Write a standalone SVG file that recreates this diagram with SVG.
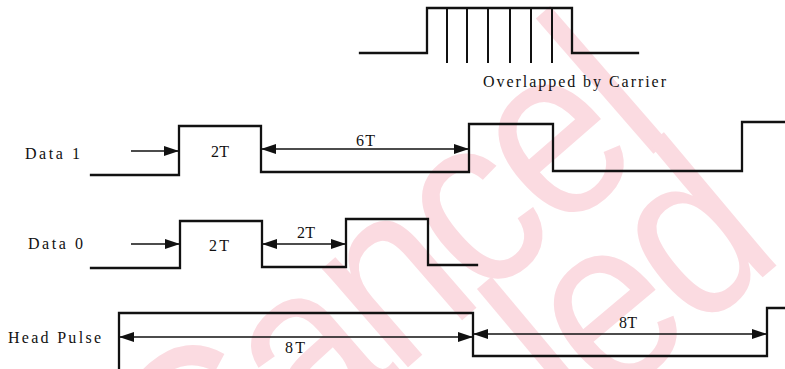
<svg xmlns="http://www.w3.org/2000/svg" width="785" height="369" viewBox="0 0 785 369">
<style>
.sig{fill:none;stroke:#111;stroke-width:2.3;stroke-linejoin:miter;stroke-linecap:square}
.car{fill:none;stroke:#111;stroke-width:2}
.arr{fill:none;stroke:#111;stroke-width:1.3}
.lbl{font-family:"Liberation Serif","Times New Roman",serif;font-size:16px;fill:#111}
.wm{font-family:"Liberation Sans",Arial,sans-serif;font-size:215px;letter-spacing:-7px;fill:#fbdbe1}
</style>
<defs>
<marker id="ah" markerUnits="userSpaceOnUse" markerWidth="15" markerHeight="10" refX="15" refY="5" orient="auto-start-reverse">
<path d="M0,0 L15,5 L0,10 z" fill="#111"/>
</marker>
</defs>
<rect width="785" height="369" fill="#fff"/>
<g id="watermark">
<text class="wm" transform="translate(200,548) rotate(-41) scale(1,1.15)">Cancel</text>
<text class="wm" transform="translate(578,432) rotate(-40) scale(1,1.12)">led</text>
</g>
<g id="carrier">
<path class="sig" d="M360,53 H427 V8 H572 V53 H638"/>
<path class="car" d="M447,8 V63 M467,8 V63 M488,8 V63 M510,8 V63 M531,8 V63 M552,8 V63"/>
<text class="lbl" x="483" y="87" textLength="183">Overlapped by Carrier</text>
</g>
<g id="data1">
<text class="lbl" x="25" y="159" textLength="55">Data 1</text>
<path class="sig" d="M91,175 H179 V126 H261 V172 H469 V124 H553 V171 H742 V122 H786"/>
<text class="lbl" x="211" y="157" textLength="18">2T</text>
<text class="lbl" x="356" y="146" textLength="19">6T</text>
</g>
<g id="data0">
<text class="lbl" x="28" y="249" textLength="55">Data 0</text>
<path class="sig" d="M91,268 H180 V221 H262 V267 H346 V219 H428 V265 H477"/>
<text class="lbl" x="209" y="251" textLength="20">2T</text>
<text class="lbl" x="297" y="238" textLength="18">2T</text>
</g>
<g id="headpulse">
<text class="lbl" x="8" y="343" textLength="93">Head Pulse</text>
<path class="sig" d="M119,370 V313 H473 V356 H767 V308 H786"/>
<text class="lbl" x="285" y="353" textLength="20">8T</text>
<text class="lbl" x="619" y="328" textLength="18">8T</text>
</g>
<g id="connectors">
<line class="arr" x1="131" y1="151" x2="179" y2="151" marker-end="url(#ah)"/>
<line class="arr" x1="261" y1="149" x2="469" y2="149" marker-start="url(#ah)" marker-end="url(#ah)"/>
<line class="arr" x1="131" y1="244" x2="180" y2="244" marker-end="url(#ah)"/>
<line class="arr" x1="262" y1="244" x2="346" y2="244" marker-start="url(#ah)" marker-end="url(#ah)"/>
<line class="arr" x1="119" y1="337" x2="473" y2="337" marker-start="url(#ah)" marker-end="url(#ah)"/>
<line class="arr" x1="473" y1="334" x2="767" y2="334" marker-start="url(#ah)" marker-end="url(#ah)"/>
</g>
</svg>
